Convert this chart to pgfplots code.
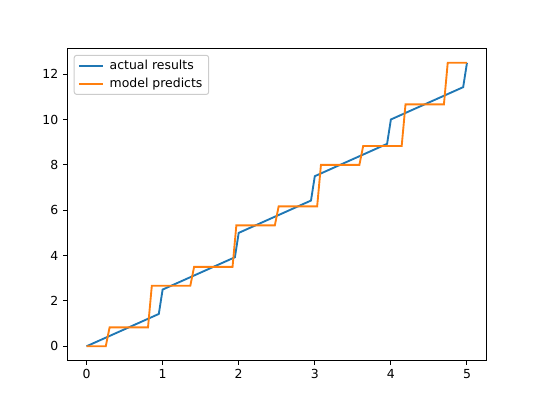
\documentclass[border=0pt]{standalone}
\usepackage{pgfplots}
\pgfplotsset{compat=1.18}
\usepackage{fontspec}
\setmainfont{DejaVu Sans}
\definecolor{C0}{HTML}{1F77B4}
\definecolor{C1}{HTML}{FF7F0E}
\definecolor{legframe}{HTML}{CCCCCC}
\begin{document}
\begin{tikzpicture}
\useasboundingbox (0,0) rectangle (6in,4.5in);
\begin{axis}[
  at={(0.75in,0.495in)}, anchor=south west,
  width=4.65in, height=3.465in, scale only axis,
  xmin=-0.25, xmax=5.25, ymin=-0.625, ymax=13.125,
  xtick={0,1,2,3,4,5}, ytick={0,2,4,6,8,10,12},
  xtick pos=left, ytick pos=left,
  tick align=outside, major tick length=3.5pt,
  tick style={black, line width=0.8pt},
  axis line style={line width=0.8pt},
  every axis/.append style={line width=0.8pt},
  /pgf/number format/assume math mode=true,
  tick label style={font=\fontsize{10}{12}\selectfont},
  xticklabel style={inner sep=0pt, yshift=-3.5pt},
  yticklabel style={inner sep=0pt, xshift=-3.5pt},
  legend style={at={(0,1)}, anchor=north west, xshift=5pt, yshift=-5pt,
    draw=legframe, rounded corners=2pt, line width=0.8pt,
    font=\fontsize{10}{12}\selectfont, inner xsep=3pt, inner ysep=2pt,
    row sep=1.2pt, fill=white, fill opacity=0.8, text opacity=1},
  legend cell align=left,
  legend image code/.code={\draw[#1, line width=1.5pt] (0pt,0pt) -- (19pt,0pt); \path (22pt,0pt);},
]
\addplot[C0, line width=1.5pt] coordinates {
(0,0) (0.95,1.425) (1.0,2.5) (1.95,3.925) (2.0,5.0) (2.95,6.425) (3.0,7.5)
(3.95,8.925) (4.0,10.0) (4.95,11.425) (5.0,12.5)};
\addlegendentry{actual results}
\addplot[C1, line width=1.5pt] coordinates {
(0,0) (0.253,0) (0.303,0.833) (0.808,0.833) (0.858,2.667) (1.364,2.667)
(1.414,3.5) (1.919,3.5) (1.969,5.333) (2.475,5.333) (2.525,6.167) (3.031,6.167)
(3.081,8.0) (3.586,8.0) (3.636,8.833) (4.142,8.833) (4.192,10.667) (4.697,10.667)
(4.747,12.5) (5.0,12.5)};
\addlegendentry{model predicts}
\end{axis}
\end{tikzpicture}
\end{document}
